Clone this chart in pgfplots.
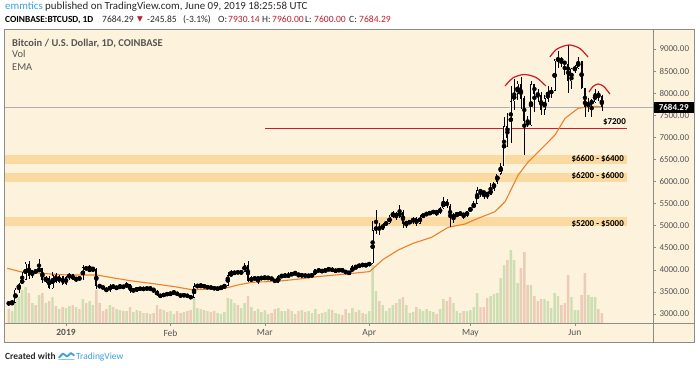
\documentclass[border=0pt]{standalone}
\usepackage{pgfplots}
\pgfplotsset{compat=1.18}
\usepackage{pgfplotstable}
\usepackage{fontspec}
\setmainfont{Carlito}
\newfontfamily\dejavu{DejaVu Sans}
\definecolor{bgc}{RGB}{253,242,220}
\definecolor{framec}{RGB}{140,140,140}
\definecolor{volg}{RGB}{204,222,178}
\definecolor{volr}{RGB}{236,204,184}
\definecolor{emac}{RGB}{238,128,40}
\definecolor{bandc}{RGB}{250,214,150}
\definecolor{lvl}{RGB}{200,30,40}
\definecolor{txtg}{RGB}{85,85,85}
\definecolor{txtd}{RGB}{40,40,40}
\definecolor{tvblue}{RGB}{59,160,220}
\definecolor{valred}{RGB}{190,30,45}

\pgfplotstableread{
d o h l c v
-17 3250 3290 3190 3230 14
-16 3230 3310 3220 3260 12
-15 3260 3590 3250 3550 28
-14 3550 3700 3480 3690 26
-13 3690 3950 3690 3780 33
-12 3780 4170 3770 4140 36
-11 4140 4190 3800 3870 30
-10 3870 4000 3820 3990 20
-9 3990 4020 3900 3950 18
-8 3950 4240 3950 4040 28
-7 4040 4040 3700 3760 30
-6 3760 3850 3700 3820 20
-5 3820 3850 3560 3580 22
-4 3580 3960 3570 3880 26
-3 3880 3930 3700 3720 17
-2 3720 3880 3700 3850 14
-1 3850 3860 3650 3690 16
0 3690 3850 3650 3830 15
1 3830 3920 3780 3900 17
2 3900 3900 3760 3780 18
3 3780 3830 3730 3810 16
4 3810 3860 3760 3790 14
5 3790 4100 3770 4060 24
6 4060 4080 3990 4000 20
7 4000 4110 3980 4000 22
8 4000 4070 3980 4010 18
9 4010 4040 3560 3630 33
10 3630 3690 3580 3620 20
11 3620 3640 3560 3580 12
12 3580 3600 3490 3510 14
13 3510 3680 3500 3660 18
14 3660 3690 3560 3570 16
15 3570 3640 3560 3610 14
16 3610 3650 3570 3640 13
17 3640 3650 3570 3600 12
18 3600 3720 3590 3690 12
19 3690 3690 3480 3530 16
20 3530 3570 3500 3540 11
21 3540 3620 3490 3580 13
22 3580 3610 3540 3560 12
23 3560 3590 3540 3580 10
24 3580 3610 3550 3570 10
25 3570 3620 3550 3570 9
26 3570 3580 3480 3530 10
27 3530 3540 3400 3430 18
28 3430 3440 3380 3400 14
29 3400 3480 3380 3460 13
30 3460 3480 3420 3440 11
31 3440 3500 3430 3470 12
32 3470 3520 3460 3500 9
33 3500 3500 3410 3420 12
34 3420 3440 3400 3410 10
35 3410 3450 3400 3440 11
36 3440 3450 3370 3390 12
37 3390 3400 3360 3370 13
38 3370 3700 3360 3630 25
39 3630 3670 3610 3630 15
40 3630 3670 3590 3660 14
41 3660 3660 3590 3600 13
42 3600 3640 3580 3610 12
43 3610 3630 3570 3590 11
44 3590 3610 3560 3570 12
45 3570 3600 3550 3580 10
46 3580 3630 3570 3600 9
47 3600 3680 3590 3640 11
48 3640 3960 3640 3880 25
49 3880 4000 3860 3910 24
50 3910 3980 3880 3960 20
51 3960 3990 3900 3920 18
52 3920 3980 3910 3960 15
53 3960 4160 3940 4110 20
54 4110 4200 3730 3740 27
55 3740 3850 3730 3820 16
56 3820 3830 3770 3800 12
57 3800 3840 3680 3810 14
58 3810 3850 3790 3810 11
59 3810 3860 3800 3820 13
60 3820 3840 3780 3820 9
61 3820 3830 3760 3790 10
62 3790 3800 3700 3710 14
63 3710 3880 3700 3850 15
64 3850 3900 3830 3860 12
65 3860 3910 3840 3870 12
66 3870 3940 3810 3860 14
67 3860 3960 3850 3940 12
68 3940 3940 3890 3920 9
69 3920 3920 3830 3870 12
70 3870 3910 3840 3880 13
71 3880 3900 3840 3860 11
72 3860 3900 3840 3860 12
73 3860 3910 3850 3890 10
74 3890 4020 3880 4010 14
75 4010 4010 3960 3970 9
76 3970 4000 3950 3970 10
77 3970 4020 3960 4000 11
78 4000 4050 3970 4030 14
79 4030 4060 3940 3970 13
80 3970 4000 3960 3990 10
81 3990 4010 3970 4000 9
82 4000 4010 3960 3990 8
83 3990 3990 3900 3920 14
84 3920 3960 3910 3940 10
85 3940 4100 3940 4080 15
86 4080 4080 4020 4060 11
87 4060 4140 4050 4120 13
88 4120 4140 4070 4110 10
89 4110 4120 4080 4110 9
90 4110 4170 4090 4150 12
91 4150 5100 4140 4900 58
92 4900 5350 4820 4970 32
93 4970 5070 4800 4910 22
94 4910 5060 4900 5040 18
95 5040 5100 5000 5060 12
96 5060 5240 5030 5200 15
97 5200 5340 5180 5290 18
98 5290 5300 5130 5200 20
99 5200 5470 5180 5320 24
100 5320 5360 4950 5040 26
101 5040 5110 4950 5080 18
102 5080 5120 5040 5080 10
103 5080 5200 5040 5170 11
104 5170 5190 4990 5040 16
105 5040 5240 5030 5220 14
106 5220 5260 5180 5240 12
107 5240 5320 5220 5280 14
108 5280 5320 5250 5290 12
109 5290 5360 5260 5330 11
110 5330 5340 5220 5290 9
111 5290 5420 5270 5390 14
112 5390 5650 5380 5550 24
113 5550 5600 5390 5440 22
114 5440 5480 4970 5170 26
115 5170 5280 5060 5250 20
116 5250 5290 5190 5270 12
117 5270 5300 5240 5280 10
118 5280 5290 5150 5220 12
119 5220 5340 5190 5330 12
120 5330 5420 5320 5400 13
121 5400 5550 5390 5500 16
122 5500 5880 5500 5800 30
123 5800 5840 5650 5770 16
124 5770 5790 5600 5740 16
125 5740 5770 5600 5700 25
126 5700 5970 5690 5830 27
127 5830 6000 5790 5990 29
128 5990 6180 5950 6180 30
129 6180 6430 6150 6350 45
130 6350 7450 6350 7250 58
131 7250 7560 6780 6980 63
132 6980 8160 6880 7820 73
133 7820 8320 7620 7990 63
134 7990 8280 7850 8210 40
135 8210 8370 7650 7880 55
136 7880 7930 6600 7360 71
137 7360 7480 7240 7270 38
138 7270 8280 7260 8200 38
139 8200 8210 7580 7990 27
140 7990 8100 7800 7960 22
141 7960 8030 7500 7630 24
142 7630 7950 7500 7880 24
143 7880 8170 7800 7990 22
144 7990 8150 7900 8060 15
145 8060 8780 8040 8740 30
146 8740 8950 8570 8790 27
147 8790 8820 8600 8720 18
148 8720 8720 8420 8660 20
149 8660 9100 8010 8270 48
150 8270 8580 8100 8555 26
151 8555 8630 8460 8560 13
152 8560 8810 8550 8740 13
153 8740 8740 8090 8110 28
154 8110 8110 7450 7680 50
155 7680 7900 7580 7790 28
156 7790 7870 7450 7800 26
157 7800 8100 7780 8000 26
158 8000 8060 7820 7930 14
159 7930 7960 7600 7684 10
}\ohlc

\pgfplotstableread{
d ema
-17.4 4035
-13.6 3958
-9.8 3935
-4.7 3906
0.3 3883
9.2 3883
13.1 3830
19.0 3755
27.3 3672
32.3 3618
37.4 3550
43.3 3566
47.2 3582
51.0 3657
55.2 3718
62.6 3740
69.4 3793
74.5 3845
82.2 3899
90.1 3960
94.0 4230
98.6 4449
103.0 4600
108.5 4737
113.4 4963
118.4 5038
122.3 5167
127.3 5316
130.3 5543
134.2 6148
137.2 6449
141.2 6752
145.1 7053
148.1 7431
152.0 7658
156.0 7700
159.4 7695
}\ematab

\begin{document}
\begin{tikzpicture}[x=1bp,y=1bp]
\path[use as bounding box] (0,0) rectangle (700,367);
\fill[bgc] (4,25) rectangle (694,338);

\begin{axis}[
  at={(4bp,44bp)}, anchor=south west,
  scale only axis, width=649bp, height=294bp,
  xmin=-18.4, xmax=174.2, ymin=2796, ymax=9454,
  axis line style={draw=none},
  xtick={0,31,59,90,120,151},
  xticklabels={\textbf{2019},Feb,Mar,Apr,May,Jun},
  xtick pos=bottom, ytick pos=right, yticklabel pos=right,
  tick align=outside, major tick length=3bp,
  tick style={framec, line width=0.6bp},
  ytick={3000,3500,4000,4500,5000,5500,6000,6500,7000,7500,8000,8500,9000},
  yticklabel style={font=\fontsize{9}{10}\selectfont, text=txtg, anchor=west, xshift=0bp,
    /pgf/number format/.cd, fixed, fixed zerofill, precision=2, 1000 sep={}, assume math mode=true},
  xticklabel style={font=\fontsize{9.5}{10}\selectfont, text=txtg},
  clip=true,
]
% volume
\addplot[ybar, bar width=0.72, bar shift=0pt, fill=volg, draw=none, forget plot,
  restrict expr to domain={\thisrow{c}-\thisrow{o}}{0:100000}]
  table[x=d, y expr={2796+22.645*\thisrow{v}}] {\ohlc};
\addplot[ybar, bar width=0.72, bar shift=0pt, fill=volr, draw=none, forget plot,
  restrict expr to domain={\thisrow{c}-\thisrow{o}}{-100000:-0.001}]
  table[x=d, y expr={2796+22.645*\thisrow{v}}] {\ohlc};
% bands
\addplot[fill=bandc, draw=none, fill opacity=0.85, forget plot] coordinates {(-18.4,6400) (166.5,6400) (166.5,6600) (-18.4,6600)} -- cycle;
\addplot[fill=bandc, draw=none, fill opacity=0.85, forget plot] coordinates {(-18.4,6000) (166.5,6000) (166.5,6200) (-18.4,6200)} -- cycle;
\addplot[fill=bandc, draw=none, fill opacity=0.85, forget plot] coordinates {(-18.4,5000) (166.5,5000) (166.5,5200) (-18.4,5200)} -- cycle;
% current price line
\addplot[color={rgb,255:red,175;green,175;blue,175}, line width=0.5bp, forget plot] coordinates {(-18.4,7684.29) (174.2,7684.29)};
% 7200 level
\addplot[lvl, line width=1.1bp, forget plot] coordinates {(59,7200) (166.5,7200)};
% EMA
\addplot[emac, line width=1.1bp, forget plot] table[x=d, y=ema] {\ematab};
% wicks
\addplot[only marks, mark=none, forget plot,
  error bars/.cd, y dir=both, y explicit, error mark=none,
  error bar style={line width=0.5bp, black}]
  table[x=d, y expr={(\thisrow{h}+\thisrow{l})/2}, y error expr={(\thisrow{h}-\thisrow{l})/2}] {\ohlc};
% down bodies
\addplot[only marks, mark=none, forget plot,
  restrict expr to domain={\thisrow{c}-\thisrow{o}}{-100000:-0.001},
  error bars/.cd, y dir=both, y explicit, error mark=none,
  error bar style={line width=2.0bp, black}]
  table[x=d, y expr={(\thisrow{o}+\thisrow{c})/2}, y error expr={max(abs(\thisrow{c}-\thisrow{o})/2,9)}] {\ohlc};
% up bodies
\addplot[only marks, mark=none, forget plot,
  restrict expr to domain={\thisrow{c}-\thisrow{o}}{0:100000},
  error bars/.cd, y dir=both, y explicit, error mark=none,
  error bar style={line width=2.0bp, black}]
  table[x=d, y expr={(\thisrow{o}+\thisrow{c})/2}, y error expr={max(abs(\thisrow{c}-\thisrow{o})/2,9)}] {\ohlc};
\addplot[only marks, mark=none, forget plot,
  restrict expr to domain={\thisrow{c}-\thisrow{o}}{0:100000},
  error bars/.cd, y dir=both, y explicit, error mark=none,
  error bar style={line width=0.9bp, white}]
  table[x=d, y expr={(\thisrow{o}+\thisrow{c})/2}, y error expr={max(abs(\thisrow{c}-\thisrow{o})/2-12,0)}] {\ohlc};
% head and shoulders arcs
\addplot[lvl, line width=1.2bp, smooth, forget plot] coordinates {(130.3,8163) (132.6,8344) (135.9,8423) (139.5,8356) (142.4,8163)};
\addplot[lvl, line width=1.2bp, smooth, forget plot] coordinates {(143.6,8820) (145.7,9001) (149.3,9092) (152.5,9012) (154.9,8820)};
\addplot[lvl, line width=1.2bp, smooth, forget plot] coordinates {(155.2,8027) (156.4,8152) (157.9,8208) (159.6,8152) (161.4,7982)};
\end{axis}

% frame
\draw[framec, line width=0.8bp] (4,25) rectangle (694,338);
\draw[framec, line width=0.8bp] (653,25) -- (653,338);
\draw[framec, line width=0.8bp] (4,44) -- (694,44);

% price box
\node[fill=black, text=white, font=\bfseries\fontsize{9}{10}\selectfont, minimum width=40bp, minimum height=11bp, inner sep=0pt, anchor=west] at (653.5,260) {7684.29};

% level labels
\begin{scope}[every node/.style={anchor=base east, inner sep=0pt, font=\bfseries\fontsize{9}{11}\selectfont, text=black}]
\node at (626,243) {\$7200};
\node at (624,206) {\$6600 - \$6400};
\node at (624,189) {\$6200 - \$6000};
\node at (624,141) {\$5200 - \$5000};
\end{scope}

% header
\node[anchor=base west, inner sep=0pt, font=\fontsize{10.9}{12}\selectfont, text=txtd] at (5,357.5) {\textcolor{tvblue}{emmtics} published on TradingView.com, June 09, 2019 18:25:58 UTC};
\node[anchor=base west, inner sep=0pt, font=\bfseries\fontsize{9.4}{12}\selectfont, text=black] at (5,345) {COINBASE:BTCUSD, 1D};
\begin{scope}[every node/.style={anchor=base west, inner sep=0pt, font=\fontsize{9.6}{12}\selectfont, text=txtd}]
\node at (102,345) {7684.29};
\node[text=valred] at (137,345.5) {{\dejavu\fontsize{7.5}{8}\selectfont ▼}};
\node at (147,345) {-245.85};
\node at (183,345) {(-3.1\%)};
\node at (218,345) {O:};
\node[text=valred] at (228,345) {7930.14};
\node at (262,345) {H:};
\node[text=valred] at (272,345) {7960.00};
\node at (305,345) {L:};
\node[text=valred] at (314,345) {7600.00};
\node at (349,345) {C:};
\node[text=valred] at (359,345) {7684.29};
\end{scope}

% legend inside
\node[anchor=base west, inner sep=0pt, font=\bfseries\fontsize{10.5}{12}\selectfont, text=txtg] at (12,320.3) {Bitcoin / U.S. Dollar, 1D, COINBASE};
\node[anchor=base west, inner sep=0pt, font=\fontsize{10.5}{12}\selectfont, text=txtg] at (12,309.7) {Vol};
\node[anchor=base west, inner sep=0pt, font=\fontsize{10.5}{12}\selectfont, text=txtg] at (12,297) {EMA};

% footer
\node[anchor=base west, inner sep=0pt, font=\bfseries\fontsize{9.5}{11}\selectfont, text=txtd] at (5,8) {Created with};
\draw[tvblue, line width=1.8bp, line join=round, line cap=round] (59,9.5) -- (63,13.5) -- (67,10.5) -- (71,14) -- (74,11.5);
\draw[tvblue!60, line width=1.2bp, line cap=round] (59,7.5) -- (74,7.5);
\node[anchor=base west, inner sep=0pt, font=\fontsize{9.5}{11}\selectfont, text=tvblue] at (76,8) {TradingView};
\end{tikzpicture}
\end{document}
